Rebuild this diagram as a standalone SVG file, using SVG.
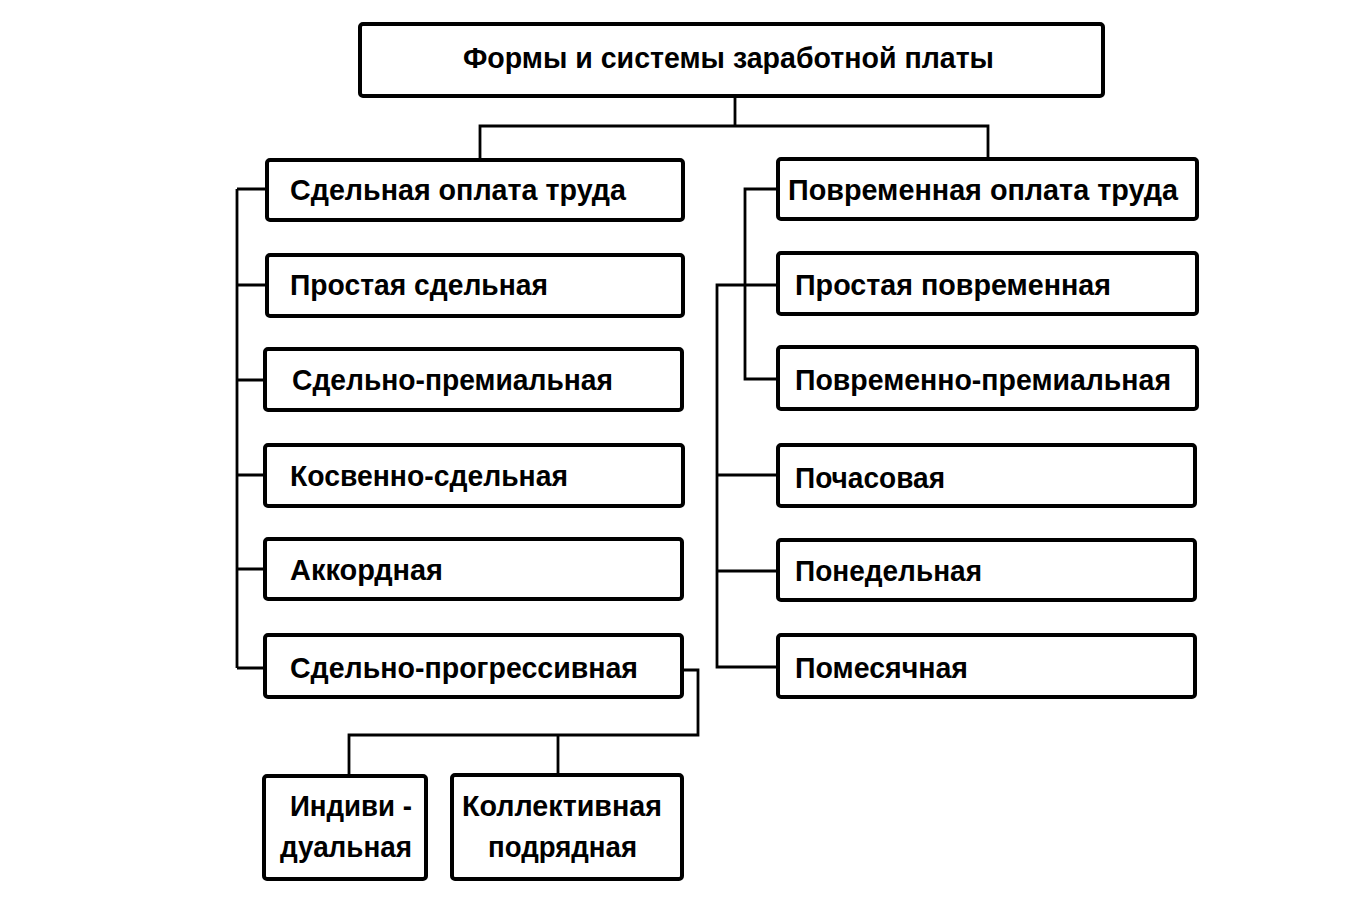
<svg xmlns="http://www.w3.org/2000/svg" width="1362" height="916" viewBox="0 0 1362 916">
<style>
.box{fill:#fff;stroke:#000;stroke-width:4;rx:3}
.t{font-family:"Liberation Sans",Arial,sans-serif;font-weight:bold;font-size:30px;fill:#000}
.c{fill:none;stroke:#000;stroke-width:2.8}
</style>
<rect width="1362" height="916" fill="#fff"/>
<g id="connectors">
<path class="c" d="M735 97 V126 M480 158 V126 H988 V158"/>
<path class="c" d="M237 189 V668 M237 189 H265 M237 285 H265 M237 380 H265 M237 475 H265 M237 569 H265 M237 668 H265"/>
<path class="c" d="M776 189 H745 V379 H776"/>
<path class="c" d="M776 285 H717 V667 H776 M717 475 H776 M717 571 H776"/>
<path class="c" d="M684 670 H698 V735 H349 V774 M558 735 V773"/>
</g>
<g id="root"><rect class="box" x="360" y="24" width="743" height="72"/><text class="t" x="463" y="68" textLength="531" lengthAdjust="spacingAndGlyphs">Формы и системы заработной платы</text></g>
<g id="piece"><rect class="box" x="267" y="160" width="416" height="60"/><text class="t" x="290" y="200" textLength="336" lengthAdjust="spacingAndGlyphs">Сдельная оплата труда</text></g>
<g id="simple-piece"><rect class="box" x="267" y="255" width="416" height="61"/><text class="t" x="290" y="295" textLength="258" lengthAdjust="spacingAndGlyphs">Простая сдельная</text></g>
<g id="piece-bonus"><rect class="box" x="265" y="349" width="417" height="61"/><text class="t" x="292" y="390" textLength="321" lengthAdjust="spacingAndGlyphs">Сдельно-премиальная</text></g>
<g id="indirect-piece"><rect class="box" x="265" y="445" width="418" height="61"/><text class="t" x="290" y="486" textLength="278" lengthAdjust="spacingAndGlyphs">Косвенно-сдельная</text></g>
<g id="chord"><rect class="box" x="265" y="539" width="417" height="60"/><text class="t" x="290" y="580" textLength="153" lengthAdjust="spacingAndGlyphs">Аккордная</text></g>
<g id="piece-progressive"><rect class="box" x="265" y="635" width="417" height="62"/><text class="t" x="290" y="678" textLength="348" lengthAdjust="spacingAndGlyphs">Сдельно-прогрессивная</text></g>
<g id="time"><rect class="box" x="778" y="159" width="419" height="60"/><text class="t" x="788" y="200" textLength="390" lengthAdjust="spacingAndGlyphs">Повременная оплата труда</text></g>
<g id="simple-time"><rect class="box" x="778" y="253" width="419" height="61"/><text class="t" x="795" y="295" textLength="316" lengthAdjust="spacingAndGlyphs">Простая повременная</text></g>
<g id="time-bonus"><rect class="box" x="778" y="347" width="419" height="62"/><text class="t" x="795" y="390" textLength="376" lengthAdjust="spacingAndGlyphs">Повременно-премиальная</text></g>
<g id="hourly"><rect class="box" x="778" y="445" width="417" height="61"/><text class="t" x="795" y="488" textLength="150" lengthAdjust="spacingAndGlyphs">Почасовая</text></g>
<g id="weekly"><rect class="box" x="778" y="540" width="417" height="60"/><text class="t" x="795" y="581" textLength="187" lengthAdjust="spacingAndGlyphs">Понедельная</text></g>
<g id="monthly"><rect class="box" x="778" y="635" width="417" height="62"/><text class="t" x="795" y="678" textLength="173" lengthAdjust="spacingAndGlyphs">Помесячная</text></g>
<g id="individual"><rect class="box" x="264" y="776" width="162" height="103"/><text class="t" x="290" y="816" textLength="122" lengthAdjust="spacingAndGlyphs">Индиви -</text><text class="t" x="280" y="857" textLength="132" lengthAdjust="spacingAndGlyphs">дуальная</text></g>
<g id="collective"><rect class="box" x="452" y="775" width="230" height="104"/><text class="t" x="462" y="816" textLength="200" lengthAdjust="spacingAndGlyphs">Коллективная</text><text class="t" x="488" y="857" textLength="149" lengthAdjust="spacingAndGlyphs">подрядная</text></g>
</svg>
